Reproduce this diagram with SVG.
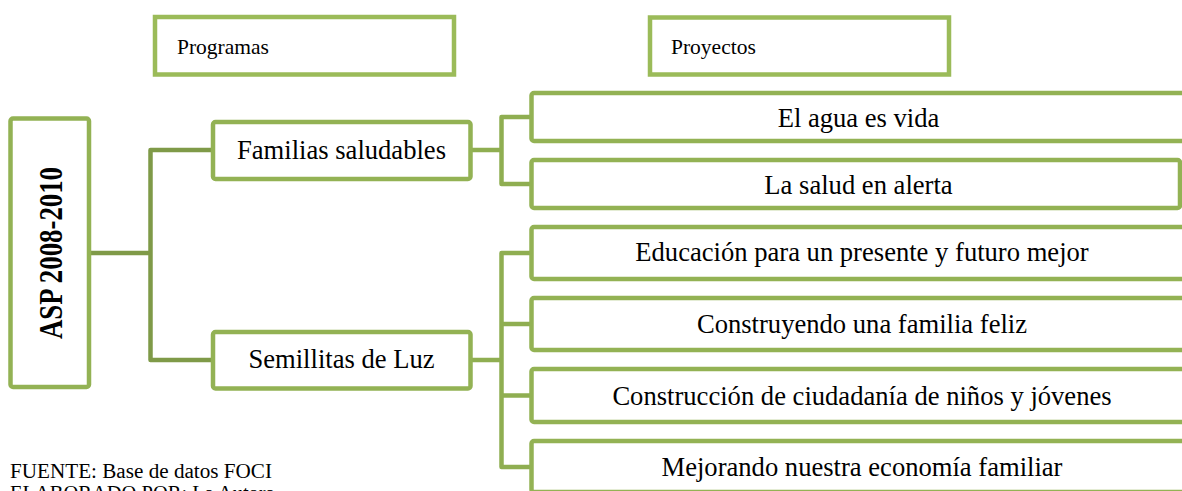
<svg xmlns="http://www.w3.org/2000/svg" width="1182" height="491" viewBox="0 0 1182 491">
<style>
.hdr{fill:#fff;stroke:#9BBB59;stroke-width:4.5}
.box{fill:#fff;stroke:#93B254;stroke-width:4.5}
.lc{fill:none;stroke:#7F9A48;stroke-width:4.5;stroke-linejoin:round}
.rc{fill:none;stroke:#8FAE51;stroke-width:4.5;stroke-linejoin:round}
.t{font-family:"Liberation Serif","Times New Roman",serif;fill:#000}
.m{font-size:26.6px;text-anchor:middle}
.s{font-size:21.5px}
</style>
<rect width="1182" height="491" fill="#fff"/>
<g id="connectors">
<path class="lc" d="M89 253H150.5M213 150H150.5V360H213"/>
<path class="rc" d="M470.5 150H501.5M531.5 117H501.5V184H531.5"/>
<path class="rc" d="M470.5 360H501.5M531.5 253H501.5V467H531.5M501.5 324H531.5M501.5 395.5H531.5"/>
</g>
<g id="programas"><rect class="hdr" x="155" y="17" width="299" height="57.5"/><text class="t s" x="177" y="54">Programas</text></g>
<g id="proyectos"><rect class="hdr" x="650" y="17.5" width="299" height="57"/><text class="t s" x="671" y="54.3">Proyectos</text></g>
<g id="asp"><rect class="box" x="10.5" y="118.5" width="78.5" height="268.5" rx="2.5"/><text class="t" transform="translate(62 253) rotate(-90)" font-size="34" font-weight="bold" text-anchor="middle" textLength="172" lengthAdjust="spacingAndGlyphs">ASP 2008-2010</text></g>
<g id="familias"><rect class="box" x="213" y="122" width="257.5" height="57" rx="2.5"/><text class="t m" x="341.5" y="158.5">Familias saludables</text></g>
<g id="semillitas"><rect class="box" x="213" y="332" width="257.5" height="56.5" rx="2.5"/><text class="t m" x="341.5" y="368">Semillitas de Luz</text></g>
<g id="agua"><rect class="box" x="531.5" y="93" width="680" height="48" rx="2.5"/><text class="t m" x="858.5" y="127">El agua es vida</text></g>
<g id="salud"><rect class="box" x="531.5" y="160" width="648.5" height="48" rx="2.5"/><text class="t m" x="858.5" y="193.5">La salud en alerta</text></g>
<g id="educacion"><rect class="box" x="531.5" y="227" width="680" height="52" rx="2.5"/><text class="t m" x="862" y="261.3">Educación para un presente y futuro mejor</text></g>
<g id="construyendo"><rect class="box" x="531.5" y="298" width="680" height="52" rx="2.5"/><text class="t m" x="862" y="333">Construyendo una familia feliz</text></g>
<g id="ciudadania"><rect class="box" x="531.5" y="369" width="680" height="53" rx="2.5"/><text class="t m" x="862" y="404.5">Construcción de ciudadanía de niños y jóvenes</text></g>
<g id="mejorando"><rect class="box" x="531.5" y="441" width="680" height="51" rx="2.5"/><text class="t m" x="862" y="476">Mejorando nuestra economía familiar</text></g>
<g id="footer">
<text class="t" x="10" y="478.3" font-size="20.5" textLength="262" lengthAdjust="spacingAndGlyphs">FUENTE: Base de datos FOCI</text>
<text class="t" x="10" y="500" font-size="20.5">ELABORADO POR: La Autora</text>
</g>
</svg>
